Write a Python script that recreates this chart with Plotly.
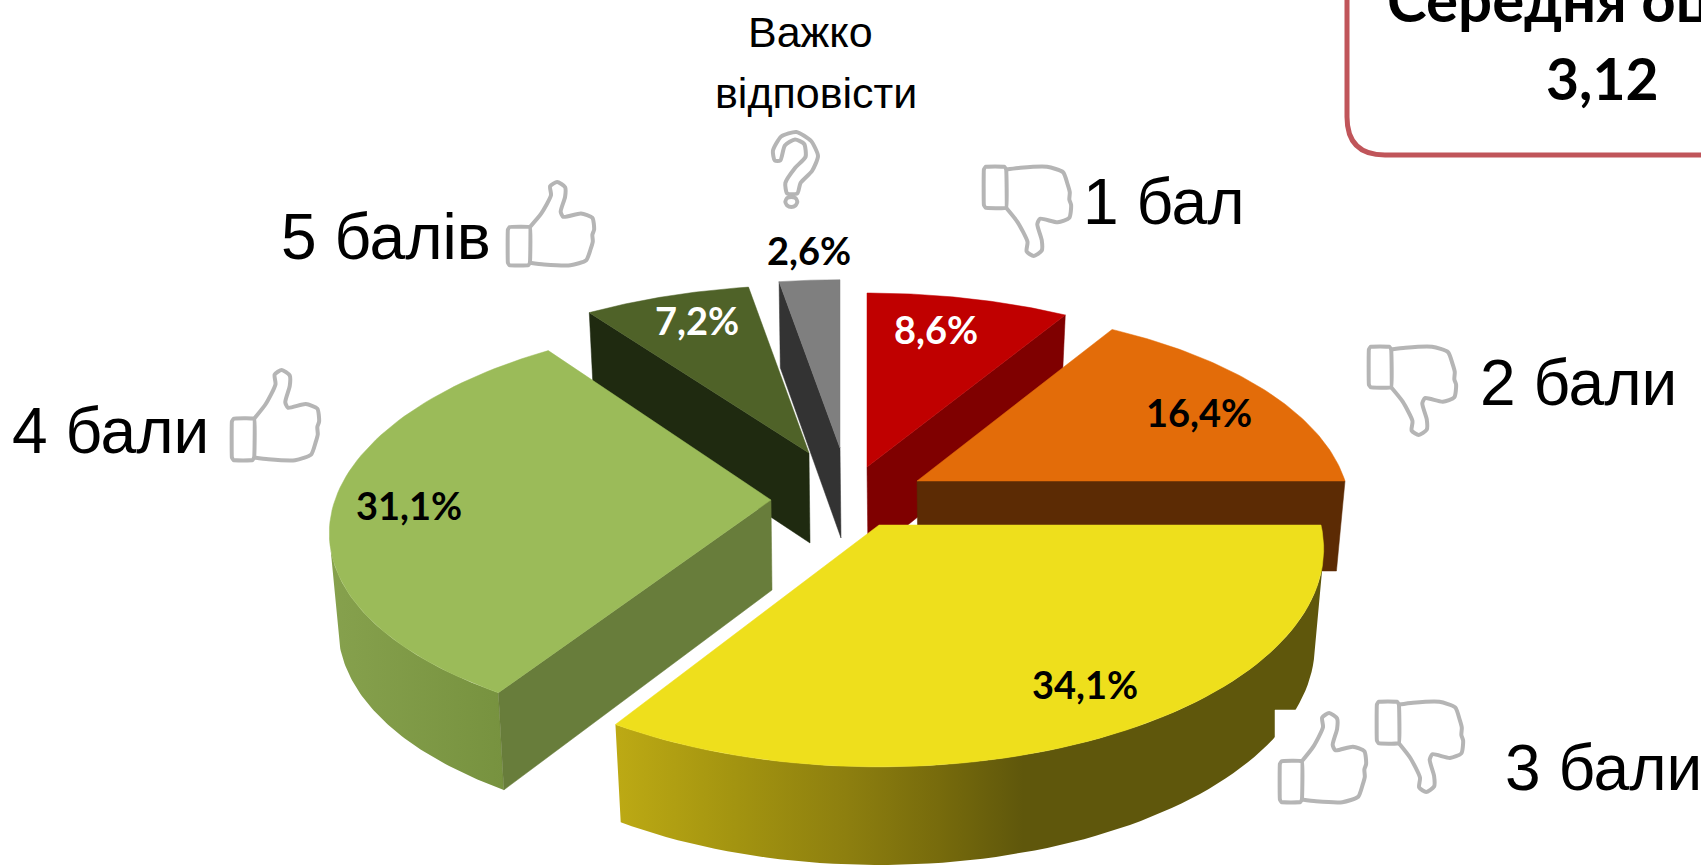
import math
import plotly.graph_objects as go

# ---------- data ----------
categories = ["1 бал", "2 бали", "3 бали", "4 бали", "5 балів", "Важко відповісти"]
values = [8.6, 16.4, 34.1, 31.1, 7.2, 2.6]
average_title = "Середня оцінка"
average_value = "3,12"

# ---------- style / layout ----------
W, H = 1701, 866
TOP = ["#c00000", "#e36c09", "#eedf1c", "#9bbb59", "#4f6228", "#7f7f7f"]
FACE = ["#7f0000", "#5c2b04", None, "#687d3b", "#1f2a10", "#333333"]
# slice index -> apex pixel position and projection (R, q, kx, ky, depth)
GEOM = {
    0: (867, 467, 435, .460, .15, .15, 90),
    1: (917, 481, 428, .466, .15, .15, 90),
    2: (879, 525, 442, .487, .11, .11, 96),
    3: (771, 500, 436, .466, .16, .135, 94),
    4: (809, 453, 427, .452, .15, .15, 90),
    5: (840, 448, 430, .450, .15, .15, 90),
}
SHRINK = .98
# which cut edge shows a face: 'start', 'end' or None
FACE_EDGE = {0: "end", 1: "end", 2: None, 3: "start", 4: "start", 5: "start"}
# visible part of the outer wall, degrees
WALL = {2: (100, None), 3: (None, 260)}
WALL_GRAD = {
    2: (614, 1320, [[0, "#bdaa14"], [.17, "#a39410"], [.33, "#8d7f0f"], [.46, "#776b0c"], [.58, "#5f570c"], [1, "#5f570c"]]),
    3: (330, 504, [[0, "#86a14d"], [1, "#77923f"]]),
}
DRAW_ORDER = [5, 4, 0, 1, 3, 2]
LABEL_POS = {0: (936, 329, "white"), 1: (1199, 412, "black"), 2: (1085, 684, "black"),
             3: (409, 505, "black"), 4: (697, 320, "white"), 5: (809, 250, "black")}
ICON = "#b5b5b5"

# cumulative angles from the values
total = sum(values)
angles = []
acc = 0.0
for v in values:
    angles.append((acc / total * 360, (acc + v) / total * 360))
    acc += v


def proj(i, theta, bottom=False):
    ax, ay, R, q, kx, ky, depth = GEOM[i]
    t = math.radians(theta)
    u, w = math.sin(t), math.cos(t)
    sx = 1 / (1 + kx * w)
    sy = 1 / (1 + ky * w)
    dx, dy = R * u * sx, -R * q * w * sy
    if bottom:
        return ax + dx * SHRINK, ay + dy * SHRINK + depth * sy ** .6
    return ax + dx, ay + dy


def apex(i, bottom=False):
    ax, ay, *_ = GEOM[i]
    return (ax + (1 if bottom else 0), ay + (90 if bottom else 0))


def arc(i, a, b, bottom=False, n=70):
    return [proj(i, a + (b - a) * j / n, bottom) for j in range(n + 1)]


fig = go.Figure()


def poly(pts, color=None, grad=None):
    xs = [p[0] for p in pts] + [pts[0][0]]
    ys = [p[1] for p in pts] + [pts[0][1]]
    kw = dict(x=xs, y=ys, mode="lines", fill="toself", hoverinfo="skip",
              showlegend=False)
    if grad:
        kw["line"] = dict(width=0)
        kw["fillgradient"] = dict(type="horizontal", start=grad[0], stop=grad[1], colorscale=grad[2])
    else:
        kw["line"] = dict(width=.5, color=color)
        kw["fillcolor"] = color
    fig.add_trace(go.Scatter(**kw))


for i in DRAW_ORDER:
    a, b = angles[i]
    if i in WALL:
        lo = WALL[i][0] if WALL[i][0] is not None else a
        hi = WALL[i][1] if WALL[i][1] is not None else b
        poly(arc(i, lo, hi) + arc(i, hi, lo, True), grad=WALL_GRAD[i])
    edge = FACE_EDGE[i]
    if edge:
        th = a if edge == "start" else b
        poly([proj(i, th), apex(i), apex(i, True), proj(i, th, True)], FACE[i])
    poly([apex(i)] + arc(i, a, b), TOP[i])

# white patch behind the 3-point icons
poly([(1275, 710), (1345, 710), (1345, 800), (1275, 800)], "white")
# rounded box, top right
fig.add_shape(type="path", path="M 1347 -20 L 1347 117 Q 1347 155 1385 155 L 1730 155",
              line=dict(color="#c0555a", width=5), layer="above")

# ---------- icons ----------
SLEEVE = [(.01, .56), (.03, .53), (.26, .53), (.26, .95), (.24, .98), (.03, .98), (.01, .95), (.01, .56)]
HAND = [(.26, .53), (.39, .37), (.50, .155), (.49, .05), (.57, 0), (.66, .06), (.66, .175), (.61, .35),
        (.64, .41), (.84, .37), (.97, .42), (.99, .56), (.97, .62), (.975, .70), (.95, .79), (.90, .92),
        (.72, .98), (.42, .97), (.26, .95)]
Q_OUT = [(.06, .38), (.02, .25), (.2, .06), (.53, 0), (.85, .12), (1, .32), (.87, .52), (.62, .68), (.55, .82),
         (.33, .82), (.29, .68), (.5, .48), (.73, .33), (.7, .16), (.5, .1), (.28, .18), (.18, .38), (.06, .38)]
Q_DOT = [(.29, .93), (.33, .88), (.42, .865), (.51, .88), (.55, .93), (.51, .98), (.42, 1), (.33, .98), (.29, .93)]


def icon(pts, box, flip=False, smooth=.6):
    x0, x1, y0, y1 = box
    xs = [x0 + p[0] * (x1 - x0) for p in pts]
    ys = [(y1 - p[1] * (y1 - y0)) if flip else (y0 + p[1] * (y1 - y0)) for p in pts]
    fig.add_trace(go.Scatter(x=xs, y=ys, mode="lines", hoverinfo="skip", showlegend=False,
                             line=dict(color=ICON, width=4, shape="spline", smoothing=smooth)))


THUMBS = [((507, 595, 182, 267), False), ((231, 320, 370, 462), False), ((1279, 1367, 713, 804), False),
          ((983, 1072, 165, 256), True), ((1368, 1457, 345, 435), True), ((1376, 1464, 700, 792), True)]
for box, flip in THUMBS:
    icon(SLEEVE, box, flip, .2)
    icon(HAND, box, flip)
icon(Q_OUT, (772, 818, 132, 207))
icon(Q_DOT, (772, 818, 132, 207))

# ---------- text ----------
SANS = "Liberation Sans"
LATO = "Lato"


def text(x, y, s, size, family=SANS, color="black", anchor="center", bold=False, yshift=0):
    fig.add_annotation(x=x, y=y, text=f"<b>{s}</b>" if bold else s, showarrow=False, xanchor=anchor, yanchor="middle",
                       yshift=yshift, font=dict(family=family, size=size, color=color), borderpad=0, borderwidth=0)


text(810, 32, "Важко", 43)
text(816, 93, "відповісти", 43)
SIDE = {0: (1083, 224), 1: (1480, 405), 2: (1505, 790), 3: (12, 453), 4: (281, 259)}
for i, (x, base) in SIDE.items():
    text(x, base - .3465 * 64, categories[i], 64, anchor="left")
for i, v in enumerate(values):
    lx, ly, col = LABEL_POS[i]
    text(lx, ly, f"{v:.1f}%".replace(".", ","), 38, LATO, col, bold=True)
text(1387, 1, average_title, 60, LATO, anchor="left", bold=True, yshift=2)
text(1602, 78, average_value, 57, LATO, bold=True)

fig.update_layout(
    width=W, height=H, margin=dict(l=0, r=0, t=0, b=0), paper_bgcolor="white", plot_bgcolor="white",
    showlegend=False,
    xaxis=dict(range=[0, W], visible=False, fixedrange=True),
    yaxis=dict(range=[H, 0], visible=False, fixedrange=True),
)
fig.write_html("out.html", config={"displayModeBar": False},
               post_script="document.body.style.margin='0';document.body.style.overflow='hidden';")
